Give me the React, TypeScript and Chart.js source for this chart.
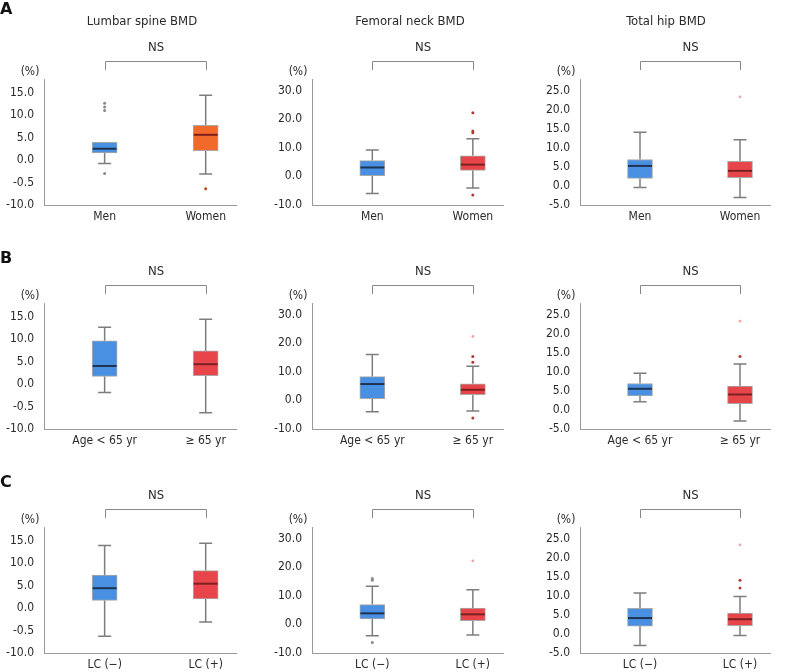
import React, { useEffect, useRef } from "react";
import { Chart, registerables } from "chart.js";
Chart.register(...registerables);

// ---------- text ----------
const panelLetters = ["A", "B", "C"];
const siteTitles = ["Lumbar spine BMD", "Femoral neck BMD", "Total hip BMD"];
const groupLabels = [
  ["Men", "Women"],
  ["Age < 65 yr", "≥ 65 yr"],
  ["LC (−)", "LC (+)"],
];
const sigLabel = "NS";
const unitLabel = "(%)";

// ---------- y axes (per site) ----------
const lumbarTicks = [-10, -5, 0, 5, 10, 15];
const lumbarTickLabels = ["-10.0", "-0.5", "0.0", "5.0", "10.0", "15.0"];
const femoralTicks = [-10, 0, 10, 20, 30];
const femoralTickLabels = ["-10.0", "0.0", "10.0", "20.0", "30.0"];
const hipTicks = [-5, 0, 5, 10, 15, 20, 25];
const hipTickLabels = ["-5.0", "0.0", "5.0", "10.0", "15.0", "20.0", "25.0"];
const axisMins = [-10, -10, -5];
const axisMaxs = [18, 34, 28.2];

// ---------- box stats: [lower whisker, Q1, median, Q3, upper whisker] ----------
// Row A: sex
const lumbarMen = [-0.75, 1.55, 2.5, 3.9, 3.9];
const lumbarWomen = [-3.1, 2.07, 5.6, 7.7, 14.4];
const femoralMen = [-6.0, 0.2, 3.1, 5.5, 9.2];
const femoralWomen = [-4.1, 2.1, 4.1, 7.2, 13.1];
const hipMen = [-0.4, 2.0, 5.3, 7.0, 14.2];
const hipWomen = [-3.0, 2.2, 4.0, 6.5, 12.2];
// Row B: age
const lumbarYoung = [-1.9, 1.7, 4.0, 9.6, 12.6];
const lumbarOld = [-6.4, 1.85, 4.4, 7.35, 14.4];
const femoralYoung = [-4.0, 0.6, 5.7, 8.3, 16.0];
const femoralOld = [-3.7, 2.0, 3.7, 5.8, 11.9];
const hipYoung = [2.2, 3.7, 5.6, 7.0, 9.7];
const hipOld = [-2.9, 1.65, 4.1, 6.3, 12.1];
// Row C: LC
const lumbarLcNeg = [-6.3, 1.7, 4.4, 7.3, 13.9];
const lumbarLcPos = [-3.1, 2.0, 5.4, 8.3, 14.4];
const femoralLcNeg = [-4.0, 1.9, 3.85, 6.9, 13.3];
const femoralLcPos = [-3.7, 1.3, 3.5, 5.7, 12.1];
const hipLcNeg = [-3.0, 2.1, 4.2, 6.8, 10.8];
const hipLcPos = [-0.4, 2.2, 3.9, 5.5, 9.9];

// ---------- outliers (o) and extremes (*) ----------
const lumbarMenOutliers = [12.6, 11.8, 11.0, -3.0];
const lumbarWomenOutliers = [-6.4];
const femoralWomenOutliers = [22.2, 15.8, 15.2, -6.5];
const hipWomenExtremes = [23.5];
const femoralOldOutliers = [15.3, 13.3, -6.2];
const femoralOldExtremes = [22.3];
const hipOldOutliers = [14.1];
const hipOldExtremes = [23.4];
const femoralLcNegOutliers = [16.0, 15.4, -6.3];
const femoralLcPosExtremes = [22.2];
const hipLcPosOutliers = [14.2, 12.15];
const hipLcPosExtremes = [23.5];

type Group = { box: number[]; out: number[]; ext: number[] };
const none: number[] = [];
const panels: Group[][][] = [
  [
    [{ box: lumbarMen, out: lumbarMenOutliers, ext: none }, { box: lumbarWomen, out: lumbarWomenOutliers, ext: none }],
    [{ box: femoralMen, out: none, ext: none }, { box: femoralWomen, out: femoralWomenOutliers, ext: none }],
    [{ box: hipMen, out: none, ext: none }, { box: hipWomen, out: none, ext: hipWomenExtremes }],
  ],
  [
    [{ box: lumbarYoung, out: none, ext: none }, { box: lumbarOld, out: none, ext: none }],
    [{ box: femoralYoung, out: none, ext: none }, { box: femoralOld, out: femoralOldOutliers, ext: femoralOldExtremes }],
    [{ box: hipYoung, out: none, ext: none }, { box: hipOld, out: hipOldOutliers, ext: hipOldExtremes }],
  ],
  [
    [{ box: lumbarLcNeg, out: none, ext: none }, { box: lumbarLcPos, out: none, ext: none }],
    [{ box: femoralLcNeg, out: femoralLcNegOutliers, ext: none }, { box: femoralLcPos, out: none, ext: femoralLcPosExtremes }],
    [{ box: hipLcNeg, out: none, ext: none }, { box: hipLcPos, out: hipLcPosOutliers, ext: hipLcPosExtremes }],
  ],
];
const siteTicks = [lumbarTicks, femoralTicks, hipTicks];
const siteTickLabels = [lumbarTickLabels, femoralTickLabels, hipTickLabels];

// ---------- styles / layout ----------
const FONT = "'DejaVu Sans Condensed', 'DejaVu Sans', sans-serif";
const W = 265;
const H = 224;
const AXIS_LEFT = [44, 47, 50];
const PAD_RIGHT = [29, 27, 25];
const TITLE_X = [142, 145, 136];
const BLUE = "#4A90E2";
const RED = "#E8454A";
const ORANGE = "#F26A2B";
const TEXT = "#2a2a2a";
const AXIS = "#9a9a9a";
const WHISKER = "#7d7d7d";

function makeDecor(row: number, col: number, groups: Group[]) {
  return {
    id: "boxDecor",
    beforeDatasetsDraw(chart: any) {
      const { ctx, scales } = chart;
      const xs = scales.x, ys = scales.y;
      ctx.save();
      ctx.strokeStyle = WHISKER;
      ctx.lineWidth = 1.5;
      groups.forEach((g, i) => {
        const x = xs.getPixelForValue(i);
        const [lo, q1, , q3, hi] = g.box;
        const pl = ys.getPixelForValue(lo), p1 = ys.getPixelForValue(q1);
        const p3 = ys.getPixelForValue(q3), ph = ys.getPixelForValue(hi);
        ctx.beginPath();
        ctx.moveTo(x, p1); ctx.lineTo(x, pl);
        ctx.moveTo(x, p3); ctx.lineTo(x, ph);
        if (hi > q3) { ctx.moveTo(x - 6.5, ph); ctx.lineTo(x + 6.5, ph); }
        if (lo < q1) { ctx.moveTo(x - 6.5, pl); ctx.lineTo(x + 6.5, pl); }
        ctx.stroke();
      });
      ctx.restore();
    },
    afterDatasetsDraw(chart: any) {
      const { ctx, scales } = chart;
      const xs = scales.x, ys = scales.y;
      ctx.save();
      ctx.lineWidth = 2;
      groups.forEach((g, i) => {
        const x = xs.getPixelForValue(i);
        const y = ys.getPixelForValue(g.box[2]);
        ctx.strokeStyle = i === 0 ? "#1f3350" : "#7a2020";
        ctx.beginPath();
        ctx.moveTo(x - 12, y); ctx.lineTo(x + 12, y);
        ctx.stroke();
      });
      ctx.restore();
    },
    afterDraw(chart: any) {
      const { ctx, scales, chartArea } = chart;
      const xs = scales.x;
      const top = chartArea.top;
      const x0 = Math.round(xs.getPixelForValue(0)) + 0.5;
      const x1 = Math.round(xs.getPixelForValue(1)) + 0.5;
      ctx.save();
      // bracket
      ctx.strokeStyle = "#888888";
      ctx.lineWidth = 1;
      ctx.beginPath();
      ctx.moveTo(x0, top - 9);
      ctx.lineTo(x0, top - 17.5);
      ctx.lineTo(x1, top - 17.5);
      ctx.lineTo(x1, top - 9);
      ctx.stroke();
      ctx.fillStyle = TEXT;
      ctx.textAlign = "center";
      ctx.textBaseline = "middle";
      ctx.font = `13px ${FONT}`;
      ctx.fillText(sigLabel, (x0 + x1) / 2, top - 31);
      ctx.font = `12px ${FONT}`;
      ctx.fillText(unitLabel, chartArea.left - 14, top - 7);
      if (row === 0) {
        ctx.font = `13px ${FONT}`;
        ctx.fillText(siteTitles[col], TITLE_X[col], 22);
      }
      if (col === 0) {
        ctx.font = `bold 16px 'DejaVu Sans', sans-serif`;
        ctx.textAlign = "left";
        ctx.fillStyle = "#111111";
        ctx.fillText(panelLetters[row], 0, row === 0 ? 10 : 35);
      }
      ctx.restore();
    },
  };
}

function Panel({ row, col }: { row: number; col: number }) {
  const ref = useRef<HTMLCanvasElement>(null);
  useEffect(() => {
    const groups = panels[row][col];
    const labels = groupLabels[row];
    const ticks = siteTicks[col];
    const tickLabels = siteTickLabels[col];
    const fill0 = BLUE;
    const fill1 = row === 0 && col === 0 ? ORANGE : RED;
    const outColor1 = row === 0 && col === 0 ? "#C0451A" : "#B03A3A";

    const outPts: any[] = [];
    const outCols: string[] = [];
    const outRad: number[] = [];
    groups.forEach((g, i) => {
      g.out.forEach((v) => {
        outPts.push({ x: i, y: v });
        outCols.push(i === 0 ? "#8a8a8a" : outColor1);
        outRad.push(1.5);
      });
      g.ext.forEach((v) => {
        outPts.push({ x: i, y: v });
        outCols.push("#F5A3A3");
        outRad.push(1.4);
      });
    });

    const chart = new Chart(ref.current as HTMLCanvasElement, {
      type: "bar",
      data: {
        datasets: [
          {
            type: "bar",
            data: groups.map((g, i) => ({ x: i, y: [g.box[1], g.box[3]] })) as any,
            backgroundColor: [fill0, fill1],
            borderColor: "#a8a8a8",
            borderWidth: 1,
            borderSkipped: false,
            barThickness: 25,
            grouped: false,
            order: 2,
          } as any,
          {
            type: "scatter",
            data: outPts,
            backgroundColor: outCols,
            borderColor: outCols,
            borderWidth: 0,
            pointRadius: outRad,
            order: 1,
          } as any,
        ],
      },
      options: {
        animation: false,
        responsive: false,
        events: [],
        layout: { padding: { left: 0, top: 79, right: PAD_RIGHT[col], bottom: 0 } },
        plugins: { legend: { display: false }, tooltip: { enabled: false }, title: { display: false } },
        scales: {
          x: {
            type: "linear",
            min: -0.6,
            max: 1.3,
            offset: false,
            grid: { display: false, drawTicks: false },
            border: { display: true, color: AXIS, width: 1 },
            afterBuildTicks: (s: any) => { s.ticks = [{ value: 0 }, { value: 1 }]; },
            afterFit: (s: any) => { s.height = 19; },
            ticks: {
              autoSkip: false,
              maxRotation: 0,
              padding: 5,
              color: TEXT,
              font: { family: FONT, size: 12 },
              callback: (v: any) => labels[Math.round(Number(v))],
            },
          },
          y: {
            type: "linear",
            min: axisMins[col],
            max: axisMaxs[col],
            grid: { display: false, drawTicks: false },
            border: { display: true, color: AXIS, width: 1 },
            afterBuildTicks: (s: any) => { s.ticks = ticks.map((v) => ({ value: v })); },
            afterFit: (s: any) => { s.width = AXIS_LEFT[col]; },
            ticks: {
              autoSkip: false,
              padding: 10,
              color: TEXT,
              font: { family: FONT, size: 12 },
              callback: (v: any) => {
                const k = ticks.indexOf(Number(v));
                return k >= 0 ? tickLabels[k] : "";
              },
            },
          },
        },
      } as any,
      plugins: [makeDecor(row, col, groups)],
    });
    return () => chart.destroy();
  }, [row, col]);
  return (
    <canvas
      ref={ref}
      width={W}
      height={H}
      style={{ position: "absolute", left: col * W, top: row * H, width: W, height: H }}
    />
  );
}

export default function App() {
  const cells: React.ReactNode[] = [];
  for (let r = 0; r < 3; r++) for (let c = 0; c < 3; c++) cells.push(<Panel key={`${r}-${c}`} row={r} col={c} />);
  return (
    <div style={{ position: "absolute", left: 0, top: 0, width: 795, height: 672, background: "#ffffff" }}>
      {cells}
    </div>
  );
}
